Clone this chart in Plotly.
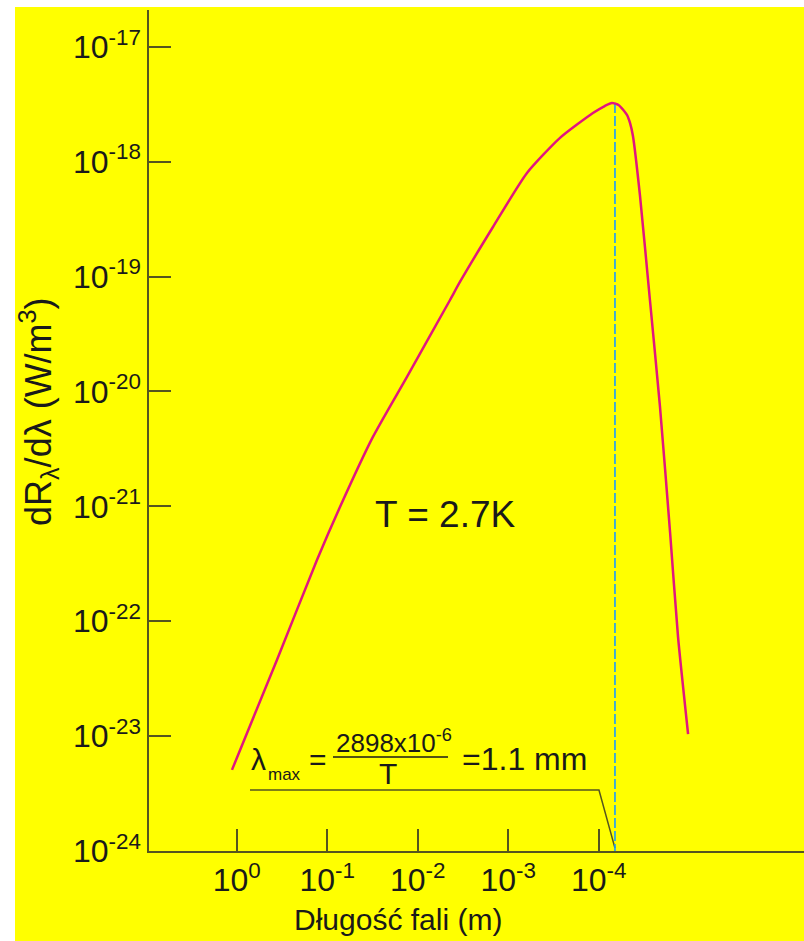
import plotly.graph_objects as go

# ---- data ----
wavelength_m = [1.13, 0.36, 0.13, 0.0724, 0.0313, 0.01316, 0.0044, 0.00342, 0.001476,
                6.21e-4, 2.68e-4, 1.16e-4, 8.6e-5, 7.15e-5, 6.0e-5, 4.88e-5, 4.5e-5,
                4.19e-5, 3.51e-5, 2.72e-5, 2.11e-5, 1.63e-5, 1.33e-5, 1.03e-5]
radiance = [5.08e-24, 4.60e-23, 3.41e-22, 9.86e-22, 4.02e-21, 1.34e-20, 6.25e-20, 8.97e-20,
            2.70e-19, 7.97e-19, 1.61e-18, 2.65e-18, 3.05e-18, 3.24e-18, 3.10e-18, 2.55e-18,
            2.15e-18, 1.67e-18, 5.13e-19, 6.25e-20, 7.48e-21, 5.98e-22, 7.30e-23, 1.04e-23]

lambda_max_pos = 6.62e-5       # position of the dashed marker on the axis
peak_value = 3.24e-18
y_floor = 1e-24

leader_x = [0.715, 9.95e-5, 6.62e-5]
leader_y = [3.40e-24, 3.40e-24, 1.06e-24]

x_tickvals = [1, 1e-1, 1e-2, 1e-3, 1e-4]
x_ticktext = ["10<sup>0</sup>", "10<sup>-1</sup>", "10<sup>-2</sup>", "10<sup>-3</sup>", "10<sup>-4</sup>"]
y_tickvals = [1e-17, 1e-18, 1e-19, 1e-20, 1e-21, 1e-22, 1e-23, 1e-24]
y_ticktext = ["10<sup>-17</sup>", "10<sup>-18</sup>", "10<sup>-19</sup>", "10<sup>-20</sup>",
              "10<sup>-21</sup>", "10<sup>-22</sup>", "10<sup>-23</sup>", "10<sup>-24</sup>"]

FONT = "Liberation Sans, Arial, sans-serif"
TXT = "#1a1a1a"
AX = "#55551f"
YEL = "#ffff00"

W, H = 804, 941
ML, MR, MT, MB = 149, 0, 10, 90
PW, PH = W - ML - MR, H - MT - MB


def px(xp):
    return (xp - ML) / PW


def py(yp):
    return (H - MB - yp) / PH


fig = go.Figure()

fig.add_trace(go.Scatter(x=leader_x, y=leader_y, mode="lines",
                         line=dict(color=AX, width=1.5), hoverinfo="skip"))
fig.add_trace(go.Scatter(x=[lambda_max_pos, lambda_max_pos], y=[peak_value, y_floor], mode="lines",
                         line=dict(color="#1a9bff", width=1.6, dash="10px,3px"), hoverinfo="skip"))
fig.add_trace(go.Scatter(x=wavelength_m, y=radiance, mode="lines",
                         line=dict(color="#e0177f", width=2.5, shape="spline", smoothing=0.6)))

fig.update_xaxes(type="log", range=[0.970, -6.268], autorange=False,
                 tickvals=x_tickvals, ticktext=x_ticktext,
                 ticks="inside", ticklen=22, tickwidth=1.5, tickcolor=AX,
                 showline=True, linecolor=AX, linewidth=1.5, showgrid=False, zeroline=False,
                 tickfont=dict(family=FONT, size=32, color=TXT))
fig.update_yaxes(type="log", range=[-24, -16.68], autorange=False,
                 tickvals=y_tickvals, ticktext=y_ticktext,
                 ticks="inside", ticklen=22, tickwidth=1.5, tickcolor=AX,
                 showline=True, linecolor=AX, linewidth=1.5, showgrid=False, zeroline=False,
                 tickfont=dict(family=FONT, size=32, color=TXT))


def txt(text, x, y, size, **kw):
    d = dict(text=text, x=px(x), y=py(y), xref="paper", yref="paper", xanchor="center",
             yanchor="middle", showarrow=False, font=dict(family=FONT, size=size, color=TXT))
    d.update(kw)
    return d


ann = [
    txt("Długość fali (m)", 398, 920, 30),
    txt("dR<sub>λ</sub>/dλ (W/m<sup>3</sup>)", 38, 412, 36, textangle=-90),
    txt("T = 2.7K", 445, 514, 37),
    # formula
    txt("λ", 258, 759, 30),
    txt("max", 284, 774, 17),
    txt("=", 318, 759, 30),
    txt("2898x10<sup>-6</sup>", 394, 741, 26),
    txt("T", 388, 773, 30),
    txt("=1.1 mm", 524, 759, 32),
]

shapes = [
    dict(type="rect", xref="paper", yref="paper", x0=px(-5), x1=px(15), y0=py(950), y1=py(-5),
         fillcolor="white", line=dict(width=0), layer="below"),
    dict(type="rect", xref="paper", yref="paper", x0=px(-5), x1=px(810), y0=py(7), y1=py(-5),
         fillcolor="white", line=dict(width=0), layer="below"),
    dict(type="line", xref="paper", yref="paper", x0=px(333), x1=px(448), y0=py(757), y1=py(757),
         line=dict(color=TXT, width=1.5)),
]

fig.update_layout(width=W, height=H, margin=dict(l=ML, r=MR, t=MT, b=MB, pad=0),
                  paper_bgcolor=YEL, plot_bgcolor=YEL, showlegend=False,
                  annotations=ann, shapes=shapes)

fig.write_html("out.html", config={"displayModeBar": False},
               post_script="document.body.style.margin='0';document.body.style.overflow='hidden';")
